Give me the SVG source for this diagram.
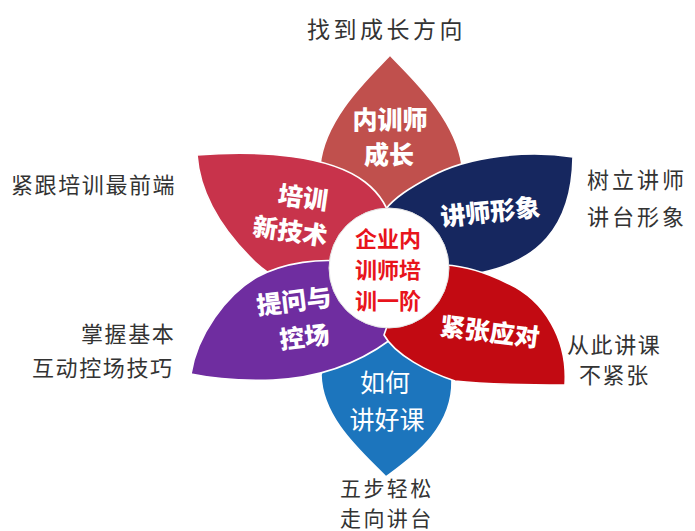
<svg xmlns="http://www.w3.org/2000/svg" width="695" height="531" viewBox="0 0 695 531">
  <style>
    .petal { stroke: #ffffff; stroke-width: 1.6; stroke-linejoin: round; }
    .lbl { font-family: "Noto Sans CJK SC", "Noto Sans", sans-serif; font-size: 25px; font-weight: 900; fill: #ffffff; text-anchor: middle; dominant-baseline: central; }
    .lbl2 { font-family: "Noto Sans CJK SC", "Noto Sans", sans-serif; font-size: 25px; font-weight: 400; fill: #ffffff; text-anchor: middle; dominant-baseline: central; }
    .ctr { font-family: "Noto Sans CJK SC", "Noto Sans", sans-serif; font-size: 22px; font-weight: 700; fill: #e8141c; text-anchor: middle; dominant-baseline: central; }
    .out { font-family: "Noto Sans CJK SC", "Noto Sans", sans-serif; font-size: 22px; font-weight: 400; fill: #333333; dominant-baseline: central; letter-spacing: 1.6px; }
    .outw { letter-spacing: 3.5px; font-size: 23px; }
    .outb { font-size: 21px; letter-spacing: 2.4px; }
  </style>
  <rect x="0" y="0" width="695" height="531" fill="#ffffff"/>

  <g id="petal-top">
    <path class="petal" fill="#c0504d" d="M390,55 C405,72 455,115 462,165 C468,215 430,255 389,268 C348,255 312,215 320,165 C325,115 375,72 390,55 Z"/>
  </g>
  <g id="petal-bottom">
    <path class="petal" fill="#1c75bd" d="M386,477 C415,455 453,428 452,380 C452,340 420,320 389,300 C355,320 325,345 321,375 C322,420 365,455 386,477 Z"/>
  </g>
  <g id="petal-upper-left">
    <path class="petal" fill="#c8334b" d="M197,155 C260,150 330,155 365,182 C395,205 405,250 380,285 C330,300 285,290 255,262 C222,230 200,195 197,155 Z"/>
  </g>
  <g id="petal-upper-right">
    <path class="petal" fill="#16275f" d="M573,157 C530,150 470,155 430,177 C410,188 395,197 385,210 C375,230 380,260 400,275 C430,278 460,275 480,273 C535,262 572,230 573,157 Z"/>
  </g>
  <g id="petal-lower-left">
    <path class="petal" fill="#6f2da0" d="M191,374 C197,335 226,295 257,277 C285,262 320,258 350,262 C380,266 402,290 400,320 L390,340 C360,362 320,378 273,380 C240,381 210,378 191,374 Z"/>
  </g>
  <g id="petal-lower-right">
    <path class="petal" fill="#c20a12" d="M565,385 C568,340 545,300 507,283 C485,272 465,266 445,265 C415,270 395,300 384,335 C395,355 428,372 455,381 C490,385 530,385 565,385 Z"/>
  </g>

  <g id="center">
    <circle cx="389" cy="268" r="60" fill="#ffffff" stroke="#e4e4e4" stroke-width="1"/>
    <text class="ctr" x="388" y="237">企业内</text>
    <text class="ctr" x="388" y="268">训师培</text>
    <text class="ctr" x="388" y="299">训一阶</text>
  </g>

  <g id="label-top">
    <text class="lbl" x="390" y="118">内训师</text>
    <text class="lbl" x="389" y="153">成长</text>
  </g>
  <g id="label-upper-left" transform="rotate(8 297 212)">
    <text class="lbl" x="301" y="195">培训</text>
    <text class="lbl" x="293" y="230">新技术</text>
  </g>
  <g id="label-upper-right">
    <text class="lbl" x="490" y="210" transform="rotate(-6 490 210)">讲师形象</text>
  </g>
  <g id="label-lower-right">
    <text class="lbl" x="490" y="330" transform="rotate(7 490 330)">紧张应对</text>
  </g>
  <g id="label-lower-left" transform="rotate(-7 298 318)">
    <text class="lbl" x="296" y="299">提问与</text>
    <text class="lbl" x="302" y="336">控场</text>
  </g>
  <g id="label-bottom">
    <text class="lbl2" x="385" y="381">如何</text>
    <text class="lbl2" x="387" y="418">讲好课</text>
  </g>

  <g id="outer-texts">
    <text class="out outw" x="307" y="28">找到成长方向</text>
    <text class="out" x="11" y="183">紧跟培训最前端</text>
    <text class="out" x="81" y="332">掌握基本</text>
    <text class="out" x="32" y="366">互动控场技巧</text>
    <text class="out" x="587" y="178" style="letter-spacing:3px">树立讲师</text>
    <text class="out" x="587" y="215" style="letter-spacing:3px">讲台形象</text>
    <text class="out" x="567" y="343">从此讲课</text>
    <text class="out" x="579" y="373">不紧张</text>
    <text class="out outb" x="340" y="487">五步轻松</text>
    <text class="out outb" x="340" y="517">走向讲台</text>
  </g>
</svg>
